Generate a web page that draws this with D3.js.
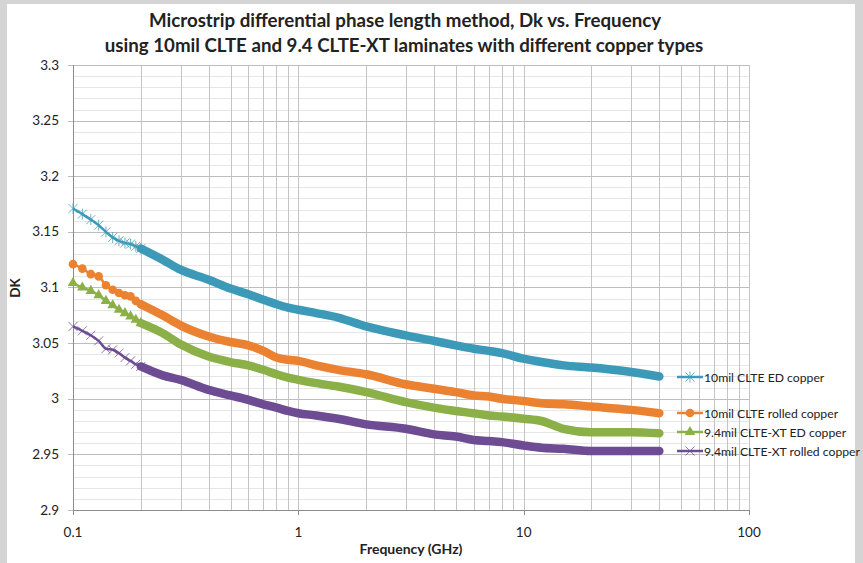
<!DOCTYPE html>
<html lang="en">
<head>
<meta charset="UTF-8">
<title>Dk vs. Frequency</title>
<script src="https://d3js.org/d3.v7.min.js"></script>
<style>
    body { margin: 0; background: #fff; }
    text { font-family: Lato, 'Open Sans', sans-serif; fill: #222; }
</style>
</head>
<body>
<svg id="chart" width="863" height="563"></svg>
<script>
    // Frequency points (GHz) shared by all four series
    const freq = [0.1, 0.11, 0.12, 0.13, 0.14, 0.15, 0.16, 0.17, 0.18, 0.19, 0.2, 0.25, 0.3, 0.4, 0.5, 0.6, 0.7, 0.8, 0.9, 1,
                  1.2, 1.5, 2, 3, 4, 5, 6, 7, 8, 10, 12, 15, 20, 30, 40];

    // Dk values
    const cltEd     = [3.171, 3.166, 3.161, 3.156, 3.150, 3.145, 3.142, 3.140, 3.139, 3.137, 3.135, 3.125, 3.116, 3.107, 3.099, 3.094, 3.089, 3.085, 3.082, 3.080,
                       3.077, 3.073, 3.065, 3.057, 3.052, 3.048, 3.045, 3.043, 3.041, 3.036, 3.033, 3.030, 3.028, 3.024, 3.020];
    const cltRolled = [3.121, 3.117, 3.112, 3.110, 3.102, 3.098, 3.095, 3.093, 3.092, 3.088, 3.085, 3.075, 3.066, 3.056, 3.051, 3.048, 3.043, 3.037, 3.035, 3.034,
                       3.030, 3.026, 3.022, 3.013, 3.009, 3.006, 3.003, 3.002, 3.000, 2.998, 2.996, 2.995, 2.993, 2.990, 2.987];
    const xtEd      = [3.104, 3.100, 3.097, 3.093, 3.088, 3.084, 3.080, 3.077, 3.074, 3.071, 3.068, 3.059, 3.049, 3.038, 3.033, 3.030, 3.026, 3.022, 3.019, 3.017,
                       3.014, 3.011, 3.006, 2.997, 2.992, 2.989, 2.987, 2.985, 2.984, 2.982, 2.980, 2.973, 2.970, 2.970, 2.969];
    const xtRolled  = [3.065, 3.061, 3.057, 3.052, 3.045, 3.044, 3.041, 3.037, 3.034, 3.031, 3.029, 3.021, 3.017, 3.008, 3.003, 2.999, 2.995, 2.992, 2.989, 2.987,
                       2.985, 2.982, 2.977, 2.973, 2.968, 2.966, 2.963, 2.962, 2.961, 2.958, 2.956, 2.955, 2.953, 2.953, 2.953];

    const seriesNames = ["10mil CLTE ED copper", "10mil CLTE rolled copper", "9.4mil CLTE-XT ED copper", "9.4mil CLTE-XT rolled copper"];
    const yTicks = [2.9, 2.95, 3, 3.05, 3.1, 3.15, 3.2, 3.25, 3.3];
    const xTicks = [0.1, 1, 10, 100];

    const series = [
        { name: seriesNames[0], values: cltEd,     color: "#3c9ab8", marker: "star",     legendY: 377 },
        { name: seriesNames[1], values: cltRolled, color: "#ea8231", marker: "circle",   legendY: 413 },
        { name: seriesNames[2], values: xtEd,      color: "#8cb048", marker: "triangle", legendY: 432 },
        { name: seriesNames[3], values: xtRolled,  color: "#6d4c93", marker: "cross",    legendY: 451 }
    ];

    const svg = d3.select("#chart");

    // grey frame round the chart
    svg.append("rect").attr("width", 863).attr("height", 563).attr("fill", "#d4d4d4");
    svg.append("rect").attr("x", 7).attr("y", 4).attr("width", 848).attr("height", 559).attr("fill", "#fff");

    const pLeft = 73, pRight = 749, pTop = 65, pBottom = 510;

    const x = d3.scaleLog().domain([0.1, 100]).range([pLeft, pRight]);
    const y = d3.scaleLinear().domain([2.9, 3.3]).range([pBottom, pTop]);

    const grid = svg.append("g");

    // minor horizontal grid every 0.01
    d3.range(290, 331, 1).forEach(c => {
        if (c % 5 !== 0) {
            const yy = Math.round(y(c / 100)) + 0.5;
            grid.append("line").attr("x1", pLeft).attr("x2", pRight)
                .attr("y1", yy).attr("y2", yy)
                .attr("stroke", "#e6e6e6").attr("stroke-width", 1);
        }
    });

    // vertical grid (decades and 2..9)
    const xGrid = [];
    [0.1, 1, 10].forEach(d => { for (let k = 1; k <= 9; k++) xGrid.push(d * k); });
    xGrid.push(100);
    xGrid.forEach(v => {
        grid.append("line").attr("x1", Math.round(x(v)) + 0.5).attr("x2", Math.round(x(v)) + 0.5)
            .attr("y1", pTop).attr("y2", pBottom)
            .attr("stroke", "#c4c4c4").attr("stroke-width", 1);
    });

    // major horizontal grid
    yTicks.forEach(v => {
        grid.append("line").attr("x1", pLeft - 5).attr("x2", pRight)
            .attr("y1", Math.round(y(v)) + 0.5).attr("y2", Math.round(y(v)) + 0.5)
            .attr("stroke", "#bdbdbd").attr("stroke-width", 1);
    });

    // axes lines and x ticks
    grid.append("line").attr("x1", pLeft + 0.5).attr("x2", pLeft + 0.5).attr("y1", pTop).attr("y2", pBottom)
        .attr("stroke", "#8c8c8c");
    grid.append("line").attr("x1", pLeft).attr("x2", pRight).attr("y1", pBottom + 0.5).attr("y2", pBottom + 0.5)
        .attr("stroke", "#8c8c8c");
    xTicks.forEach(v => {
        grid.append("line").attr("x1", Math.round(x(v)) + 0.5).attr("x2", Math.round(x(v)) + 0.5)
            .attr("y1", pBottom).attr("y2", pBottom + 5).attr("stroke", "#8c8c8c");
    });

    // tick labels
    svg.append("g").selectAll("text").data(yTicks).join("text")
        .attr("x", 59).attr("y", d => y(d) + 4.5)
        .attr("text-anchor", "end").attr("font-size", 13.5)
        .text(d => d3.format("")(d));
    svg.append("g").selectAll("text").data(xTicks).join("text")
        .attr("x", d => x(d)).attr("y", 537)
        .attr("text-anchor", "middle").attr("font-size", 13.5)
        .text(d => d);

    // titles
    svg.append("text").attr("x", 405).attr("y", 27).attr("text-anchor", "middle")
        .attr("font-size", 18.7).attr("font-weight", "bold")
        .text("Microstrip differential phase length method, Dk vs. Frequency");
    svg.append("text").attr("x", 404).attr("y", 52).attr("text-anchor", "middle")
        .attr("font-size", 18.7).attr("font-weight", "bold")
        .text("using 10mil CLTE and 9.4 CLTE-XT laminates with different copper types");
    svg.append("text").attr("x", 411).attr("y", 554).attr("text-anchor", "middle")
        .attr("font-size", 14).attr("font-weight", "bold")
        .text("Frequency (GHz)");
    svg.append("text").attr("transform", "translate(20,288) rotate(-90)").attr("text-anchor", "middle")
        .attr("font-size", 13.5).attr("font-weight", "bold")
        .text("DK");

    function drawMarker(g, type, cx, cy, color) {
        if (type === "circle") {
            g.append("circle").attr("cx", cx).attr("cy", cy).attr("r", 4.3).attr("fill", color);
        } else if (type === "triangle") {
            g.append("path").attr("d", d3.symbol(d3.symbolTriangle, 48)()).attr("transform", `translate(${cx},${cy})`)
                .attr("fill", color);
        } else if (type === "cross") {
            const s = 4.5;
            g.append("path").attr("d", `M${cx - s},${cy - s}L${cx + s},${cy + s}M${cx - s},${cy + s}L${cx + s},${cy - s}`)
                .attr("stroke", color).attr("stroke-width", 1).attr("opacity", 0.75);
        } else {
            const s = 4.5;
            g.append("path").attr("d", `M${cx - s},${cy - s}L${cx + s},${cy + s}M${cx - s},${cy + s}L${cx + s},${cy - s}M${cx},${cy - s - 1}L${cx},${cy + s + 1}`)
                .attr("stroke", color).attr("stroke-width", 1).attr("opacity", 0.75);
        }
    }

    const line = d3.line().x(d => x(d[0])).y(d => y(d[1])).curve(d3.curveMonotoneX);

    series.forEach(s => {
        const pts = freq.map((f, i) => [f, s.values[i]]);
        const g = svg.append("g");
        // thick band where the measured points are packed densely
        g.append("path").datum(pts.filter(p => p[0] >= 0.2))
            .attr("d", line).attr("fill", "none")
            .attr("stroke", s.color).attr("stroke-width", 8.5).attr("stroke-linecap", "round");
        g.append("path").datum(pts)
            .attr("d", line).attr("fill", "none")
            .attr("stroke", s.color).attr("stroke-width", 2.5);
        pts.filter(p => p[0] <= 0.2).forEach(p => drawMarker(g, s.marker, x(p[0]), y(p[1]), s.color));

        // legend entry
        const lg = svg.append("g");
        lg.append("line").attr("x1", 677).attr("x2", 703).attr("y1", s.legendY).attr("y2", s.legendY)
            .attr("stroke", s.color).attr("stroke-width", 2.5);
        drawMarker(lg, s.marker, 690, s.legendY, s.color);
        lg.append("text").attr("x", 704).attr("y", s.legendY + 4.5).attr("font-size", 12.2)
            .text(s.name);
    });
</script>
</body>
</html>
